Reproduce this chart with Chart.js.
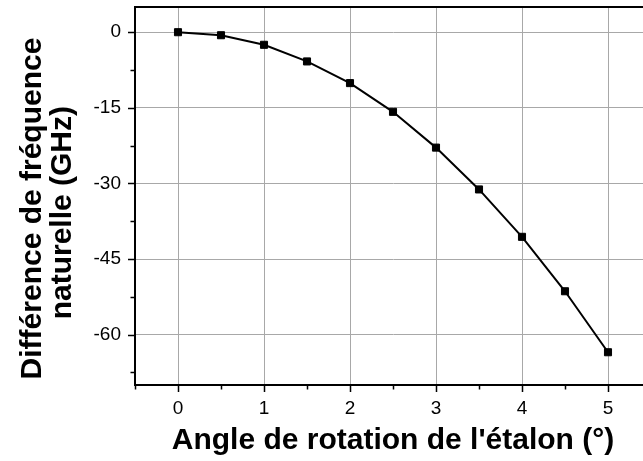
<!doctype html>
<html>
<head>
<meta charset="utf-8">
<script src="https://cdn.jsdelivr.net/npm/chart.js@4.4.1/dist/chart.umd.min.js"></script>
<style>
  html, body { margin: 0; padding: 0; background: #fff; }
  #wrap { width: 643px; height: 461px; overflow: hidden; position: relative; }
  canvas { display: block; }
</style>
</head>
<body>
<div id="wrap"><canvas id="c" width="660" height="461"></canvas></div>
<script>
// rotation angle of the etalon (deg) and resulting natural frequency shift (GHz)
const angles = [0, 0.5, 1, 1.5, 2, 2.5, 3, 3.5, 4, 4.5, 5];
const freqDiff = [0, -0.6, -2.5, -5.8, -10.1, -15.8, -22.9, -31.2, -40.6, -51.4, -63.5];

const xTicks = [0, 1, 2, 3, 4, 5];
const xMinorTicks = [-0.5, 0.5, 1.5, 2.5, 3.5, 4.5, 5.5];
const yTicks = [-60, -45, -30, -15, 0];
const yMinorTicks = [-67.5, -52.5, -37.5, -22.5, -7.5];

const FONT = "'Liberation Sans', Arial, sans-serif";

// frame on top + outward major/minor tick marks, Origin style
const frameTicks = {
  id: 'frameTicks',
  afterDraw(chart) {
    const { ctx, chartArea: a, scales: { x, y } } = chart;
    ctx.save();
    ctx.strokeStyle = '#000';
    ctx.lineWidth = 2;
    ctx.beginPath();
    ctx.moveTo(a.left - 1, a.top);
    ctx.lineTo(a.right, a.top);
    ctx.stroke();
    ctx.lineWidth = 1.5;
    ctx.beginPath();
    const tx = (vals, len) => vals.forEach(v => {
      const px = Math.round(x.getPixelForValue(v)) + 0.5;
      ctx.moveTo(px, a.bottom); ctx.lineTo(px, a.bottom + len);
    });
    const ty = (vals, len) => vals.forEach(v => {
      const py = Math.round(y.getPixelForValue(v)) + 0.5;
      ctx.moveTo(a.left, py); ctx.lineTo(a.left - len, py);
    });
    tx(xTicks, 7); tx(xMinorTicks, 4.5);
    ty(yTicks, 7); ty(yMinorTicks, 4.5);
    ctx.stroke();
    ctx.restore();
  }
};

new Chart(document.getElementById('c'), {
  type: 'line',
  data: {
    labels: angles,
    datasets: [{
      data: angles.map((a, i) => ({ x: a, y: freqDiff[i] })),
      borderColor: '#000',
      backgroundColor: '#000',
      borderWidth: 2,
      pointStyle: 'rect',
      pointRadius: 5,
      pointBorderWidth: 1,
      tension: 0
    }]
  },
  plugins: [frameTicks],
  options: {
    responsive: false,
    animation: false,
    layout: { padding: { top: 7, right: 9, left: 0, bottom: 0 } },
    plugins: { legend: { display: false }, tooltip: { enabled: false } },
    scales: {
      x: {
        type: 'linear',
        min: -0.5,
        max: 5.5,
        afterBuildTicks: s => { s.ticks = xTicks.map(v => ({ value: v })); },
        afterFit: s => { s.height = 76; s.paddingLeft = 0; s.paddingRight = 0; },
        grid: { color: '#a8a8a8', lineWidth: 1, drawTicks: false },
        border: { display: true, color: '#000', width: 2 },
        ticks: { color: '#000', padding: 12, font: { family: FONT, size: 19 } },
        title: {
          display: true,
          text: "Angle de rotation de l'étalon (°)",
          color: '#000',
          font: { family: FONT, size: 30, weight: 'bold' },
          padding: { top: 0, bottom: 2 }
        }
      },
      y: {
        type: 'linear',
        min: -70,
        max: 5,
        afterBuildTicks: s => { s.ticks = yTicks.map(v => ({ value: v })); },
        afterFit: s => { s.width = 135; s.paddingTop = 0; s.paddingBottom = 0; },
        grid: { color: '#a8a8a8', lineWidth: 1, drawTicks: false },
        border: { display: true, color: '#000', width: 2 },
        ticks: { color: '#000', padding: 14, font: { family: FONT, size: 19 } },
        title: {
          display: true,
          text: ['Différence de fréquence\u00a0\u00a0\u00a0', 'naturelle (GHz)\u00a0\u00a0\u00a0\u00a0'],
          color: '#000',
          font: { family: FONT, size: 30, weight: 'bold', lineHeight: 1.0 },
          padding: { top: 18, bottom: 0 }
        }
      }
    }
  }
});
</script>
</body>
</html>
